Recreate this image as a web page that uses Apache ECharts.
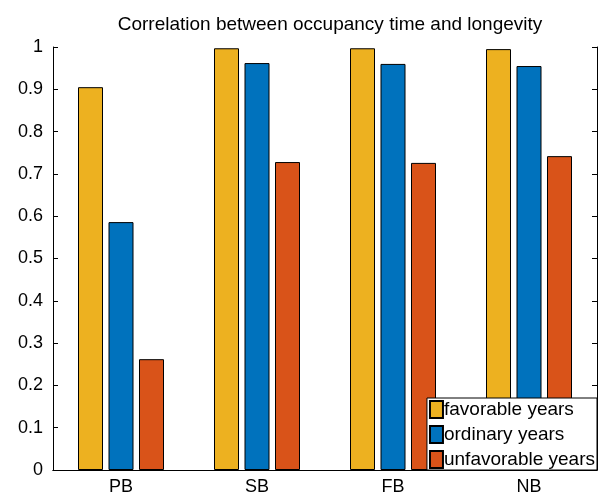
<!DOCTYPE html>
<html>
<head>
<meta charset="utf-8">
<script src="https://cdn.jsdelivr.net/npm/echarts@6/dist/echarts.min.js"></script>
<style>
  html, body { margin: 0; padding: 0; background: #fff; }
  #chart { width: 606px; height: 496px; }
</style>
</head>
<body>
<div id="chart"></div>
<script>
const categories = ['PB', 'SB', 'FB', 'NB']
const favorable = [0.905, 0.997, 0.997, 0.995]
const ordinary = [0.586, 0.962, 0.960, 0.955]
const unfavorable = [0.262, 0.728, 0.726, 0.742]
const yTicks = [0, 0.1, 0.2, 0.3, 0.4, 0.5, 0.6, 0.7, 0.8, 0.9, 1]

const font = 'Helvetica, "Liberation Sans", Arial, sans-serif'

function bar (name, data, color) {
  return {
    name: name,
    type: 'bar',
    data: data,
    barWidth: 25,
    barGap: '22%',
    itemStyle: { color: color, borderColor: '#000', borderWidth: 1 }
  }
}

const chart = echarts.init(document.getElementById('chart'))
chart.setOption({
  animation: false,
  title: {
    text: 'Correlation between occupancy time and longevity',
    left: 325,
    textAlign: 'center',
    top: 10,
    textStyle: { fontFamily: font, fontSize: 19, fontWeight: 'normal', color: '#000' }
  },
  grid: { left: 53, right: 9, top: 47, bottom: 25 },
  legend: {
    orient: 'vertical',
    right: 9,
    bottom: 26,
    icon: 'rect',
    itemWidth: 13,
    itemHeight: 17,
    itemGap: 6,
    padding: [2, 2, 1, 2],
    borderColor: '#000',
    borderWidth: 1,
    backgroundColor: '#fff',
    textStyle: { fontFamily: font, fontSize: 19, lineHeight: 17, color: '#000', padding: [0, 0, 0, -4] }
  },
  xAxis: [{
    type: 'category',
    data: categories,
    axisLine: { lineStyle: { color: '#000' } },
    axisTick: { inside: true, alignWithLabel: true, length: 5, lineStyle: { color: '#000' } },
    axisLabel: { fontFamily: font, fontSize: 18, color: '#000', margin: 8 }
  }, {
    type: 'category',
    data: categories,
    position: 'top',
    axisLine: { lineStyle: { color: '#000' } },
    axisTick: { inside: true, alignWithLabel: true, length: 5, lineStyle: { color: '#000' } },
    axisLabel: { show: false }
  }],
  yAxis: [{
    type: 'value',
    min: 0,
    max: 1,
    interval: 0.1,
    splitLine: { show: false },
    axisLine: { show: true, lineStyle: { color: '#000' } },
    axisTick: { show: true, inside: true, length: 5, lineStyle: { color: '#000' } },
    axisLabel: {
      fontFamily: font, fontSize: 18, color: '#000', margin: 10,
      formatter: v => String(yTicks[Math.round(v * 10)])
    }
  }, {
    type: 'value',
    min: 0,
    max: 1,
    interval: 0.1,
    position: 'right',
    splitLine: { show: false },
    axisLine: { show: true, lineStyle: { color: '#000' } },
    axisTick: { show: true, inside: true, length: 5, lineStyle: { color: '#000' } },
    axisLabel: { show: false }
  }],
  series: [
    bar('favorable years', favorable, '#EDB120'),
    bar('ordinary years', ordinary, '#0072BD'),
    bar('unfavorable years', unfavorable, '#D95319')
  ]
})
</script>
</body>
</html>
